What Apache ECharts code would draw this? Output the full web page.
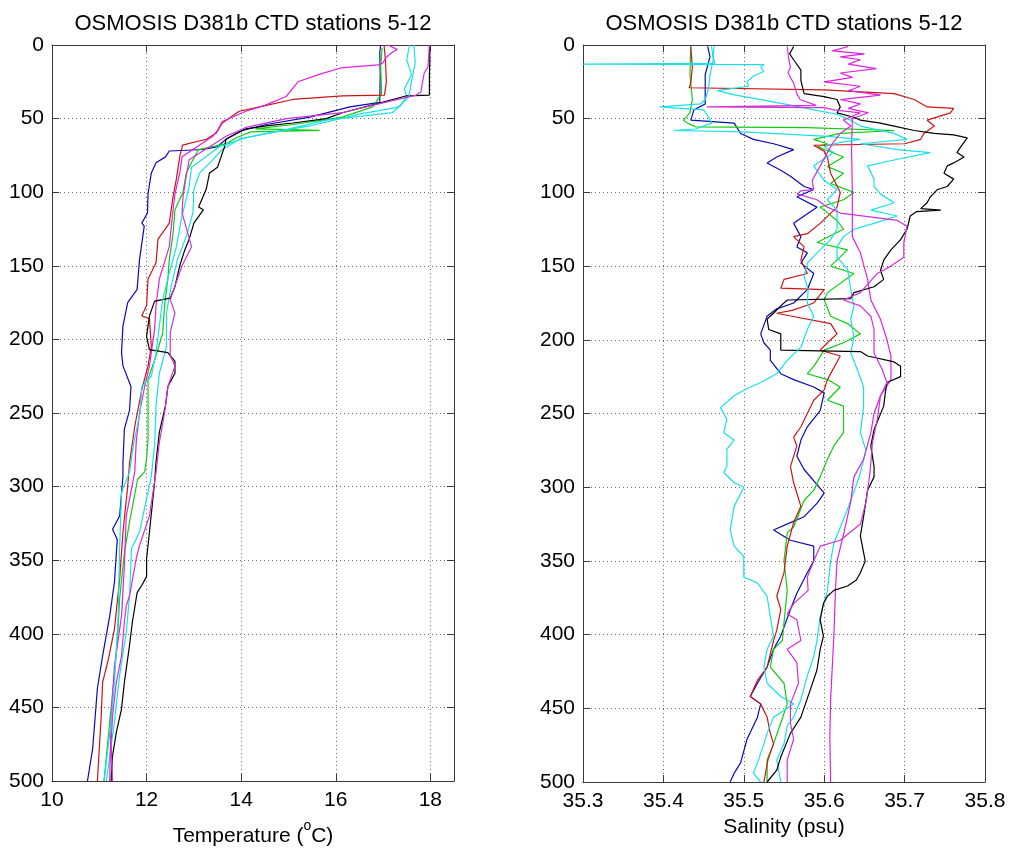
<!DOCTYPE html>
<html>
<head>
<meta charset="utf-8">
<title>OSMOSIS D381b CTD stations 5-12</title>
<script src="https://cdn.jsdelivr.net/npm/echarts@6/dist/echarts.min.js"></script>
<style>
  html, body { margin: 0; padding: 0; background: #fff; }
  #chart { width: 1013px; height: 852px; }
</style>
</head>
<body>
<div id="chart"></div>
<script>
// Profiles as [depth (m), value] pairs, one array per cast.
// Temperature (deg C)
const tempBlue = [[0,16.95],[5,16.93],[20,16.94],[39,16.93],[42,16.3],[49,15.45],[54,14.53],[58,14.03],[64,13.68],[69,13.5],[71,13.2],[72,12.48],[76,12.4],[80,12.2],[87,12.1],[101,12.03],[114,12.02],[121,11.9],[123,11.95],[146,11.85],[166,11.8],[175,11.6],[191,11.5],[209,11.47],[218,11.5],[232,11.67],[248,11.64],[261,11.53],[284,11.5],[293,11.5],[320,11.43],[329,11.28],[336,11.38],[365,11.32],[388,11.22],[415,11.07],[437,10.96],[478,10.86],[500,10.75]];
const tempGreen = [[2,16.98],[15,16.95],[33,16.97],[42,16.78],[49,16.14],[54,15.1],[57,14.3],[58,15.66],[59,14.2],[63,13.9],[67,13.7],[71,13.1],[78,12.98],[87,12.84],[100,12.77],[112,12.6],[128,12.56],[146,12.48],[159,12.45],[177,12.38],[196,12.34],[214,12.17],[227,12.03],[250,12.03],[268,12.03],[281,12.0],[290,11.96],[295,11.81],[324,11.64],[345,11.53],[376,11.43],[401,11.39],[428,11.32],[460,11.22],[483,11.15],[500,11.1]];
const tempRed = [[0,17.02],[10,17.05],[25,17.07],[34,17.03],[34.5,16.14],[37,15.09],[42,14.39],[45,13.96],[53,13.6],[60,13.47],[64,13.26],[68,12.76],[76,12.7],[91,12.63],[103,12.56],[121,12.48],[132,12.24],[148,12.2],[159,12.03],[177,12.0],[184,11.9],[186,12.06],[205,12.1],[218,12.03],[234,11.9],[259,11.75],[284,11.64],[300,11.6],[331,11.5],[363,11.43],[397,11.32],[419,11.18],[433,11.07],[456,11.04],[500,10.96]];
const tempCyanA = [[0,17.56],[10,17.5],[20,17.6],[30,17.45],[35,17.5],[42,17.35],[47,16.5],[55,15.45],[60,14.53],[64,13.96],[71,13.6],[78,13.4],[87,13.12],[98,13.0],[114,12.98],[130,12.84],[146,12.65],[164,12.52],[182,12.42],[205,12.42],[223,12.27],[245,12.2],[272,12.17],[293,12.1],[331,11.85],[342,11.68],[374,11.64],[399,11.57],[428,11.43],[460,11.32],[500,11.15]];
const tempMagentaA = [[0,17.1],[3,17.3],[6,17.15],[9,17.05],[12,17.0],[13.5,16.9],[15.6,16.1],[20,15.65],[25,15.2],[35,14.95],[41,14.5],[45,14.1],[52,13.6],[58,13.5],[62,13.4],[76,12.75],[87,12.7],[101,12.6],[115,12.55],[137,12.48],[159,12.27],[177,12.2],[193,12.17],[218,12.06],[232,11.96],[250,11.85],[270,11.78],[290,11.75],[320,11.57],[354,11.53],[388,11.47],[422,11.32],[456,11.25],[500,11.22]];
const tempBlack = [[0,17.98],[10,17.99],[20,17.98],[34,17.98],[34.5,17.5],[40,16.86],[46,16.14],[50,15.8],[53,15.09],[55,14.53],[57,14.1],[60,13.9],[64,13.68],[69,13.65],[83,13.5],[87,13.33],[98,13.26],[110,13.1],[112,13.2],[121,13.0],[132,12.9],[140,12.8],[150,12.7],[164,12.6],[172,12.5],[174,12.17],[184,12.06],[198,12.0],[207,12.06],[209,12.45],[215,12.6],[223,12.6],[232,12.45],[245,12.4],[263,12.27],[283,12.2],[297,12.17],[331,12.06],[349,12.0],[361,12.0],[367,11.9],[372,11.8],[392,11.7],[410,11.63],[433,11.53],[451,11.47],[467,11.36],[483,11.28],[500,11.25]];
const tempCyanB = [[0,17.65],[12,17.68],[25,17.6],[35,17.55],[46,17.2],[51,15.8],[59,14.74],[63,14.1],[69,13.55],[83,12.95],[96,12.9],[119,12.73],[137,12.63],[155,12.48],[173,12.34],[191,12.27],[209,12.2],[225,12.1],[232,11.9],[250,11.86],[272,11.72],[290,11.64],[304,11.47],[342,11.43],[388,11.4],[433,11.32],[460,11.25],[500,11.1]];
const tempMagentaB = [[0,17.98],[15,17.95],[19,17.87],[26,17.83],[32,17.8],[34,17.7],[43,16.5],[46,16.14],[50,14.96],[56,14.1],[62,13.68],[78,12.9],[89,12.84],[103,12.77],[114,12.75],[137,12.95],[150,12.75],[159,12.65],[173,12.5],[182,12.6],[195,12.5],[211,12.5],[218,12.6],[232,12.45],[250,12.38],[270,12.27],[290,12.2],[320,12.06],[340,11.85],[349,11.78],[374,11.64],[381,11.57],[392,11.53],[415,11.47],[433,11.36],[456,11.28],[474,11.25],[500,11.28]];

// Salinity (psu)
const salBlue = [[1,35.455],[8,35.458],[20,35.452],[40,35.452],[44,35.438],[51,35.434],[53,35.488],[60,35.496],[64,35.512],[67,35.537],[71,35.562],[76,35.541],[80,35.529],[85,35.546],[89,35.558],[96,35.575],[98,35.587],[103,35.566],[110,35.591],[116,35.575],[121,35.562],[130,35.571],[137,35.566],[141,35.579],[148,35.571],[155,35.587],[166,35.579],[175,35.562],[179,35.541],[184,35.529],[196,35.521],[202,35.525],[207,35.533],[214,35.533],[223,35.546],[227,35.562],[232,35.587],[236,35.6],[248,35.595],[259,35.579],[268,35.571],[279,35.566],[288,35.575],[304,35.6],[311,35.591],[320,35.575],[324,35.558],[329,35.537],[336,35.558],[340,35.587],[350,35.587],[358,35.579],[372,35.566],[383,35.558],[401,35.546],[410,35.537],[422,35.529],[433,35.517],[442,35.508],[447,35.521],[456,35.517],[471,35.504],[487,35.496],[494,35.488],[500,35.483]];
const salGreen = [[1,35.434],[20,35.433],[37,35.436],[46,35.433],[51,35.425],[53,35.43],[55.5,35.44],[56,35.579],[58,35.687],[60,35.62],[64,35.587],[67,35.604],[69,35.592],[76,35.624],[82.5,35.604],[87,35.624],[94,35.608],[100,35.637],[105,35.624],[110,35.595],[119,35.616],[125,35.624],[134,35.591],[139,35.629],[150,35.608],[155,35.637],[168,35.604],[173,35.6],[184,35.608],[189,35.629],[196,35.645],[202,35.624],[207,35.6],[218,35.587],[223,35.579],[227,35.604],[232,35.62],[241,35.604],[245,35.624],[263,35.624],[272,35.612],[281,35.604],[293,35.595],[302,35.587],[309,35.575],[327,35.562],[331,35.554],[350,35.55],[370,35.554],[392,35.55],[404,35.548],[410,35.537],[422,35.533],[433,35.55],[447,35.554],[460,35.546],[474,35.537],[485,35.529],[500,35.529]];
const salRed = [[1,35.434],[15,35.436],[26,35.434],[29,35.432],[30,35.43],[30.5,35.6],[33,35.687],[37,35.712],[42,35.728],[43,35.761],[46,35.757],[51,35.728],[55,35.737],[60,35.724],[64,35.72],[67,35.7],[68,35.587],[72,35.6],[76,35.604],[87,35.608],[100,35.62],[110,35.616],[121,35.595],[128,35.579],[130,35.562],[137,35.575],[146,35.571],[155,35.579],[159,35.55],[165,35.546],[166,35.6],[175,35.587],[180,35.56],[182,35.541],[184,35.56],[189,35.608],[196,35.616],[202,35.604],[207,35.595],[211,35.62],[227,35.604],[234,35.6],[241,35.587],[250,35.579],[259,35.571],[266,35.562],[272,35.566],[286,35.558],[297,35.562],[313,35.571],[324,35.562],[340,35.554],[358,35.55],[374,35.541],[383,35.546],[397,35.541],[404,35.537],[422,35.529],[431,35.517],[442,35.508],[447,35.521],[456,35.529],[467,35.533],[474,35.537],[485,35.53],[500,35.525]];
const salCyanA = [[1,35.463],[8,35.462],[12.5,35.464],[13,35.3],[13.3,35.525],[15,35.521],[18,35.525],[21,35.512],[25,35.504],[28,35.506],[31,35.467],[34,35.49],[37,35.521],[41,35.56],[44,35.587],[47,35.616],[51,35.633],[55,35.645],[60,35.687],[64,35.703],[67,35.645],[71,35.691],[73,35.732],[78,35.687],[82,35.654],[91,35.662],[96,35.662],[101,35.67],[107,35.687],[112,35.658],[116,35.691],[121,35.662],[125,35.637],[130,35.624],[137,35.616],[144,35.616],[152,35.629],[166,35.633],[177,35.637],[186,35.633],[198,35.637],[209,35.633],[220,35.641],[232,35.649],[245,35.649],[263,35.645],[275,35.652],[290,35.645],[297,35.641],[315,35.629],[338,35.612],[350,35.608],[370,35.604],[388,35.595],[404,35.591],[415,35.587],[428,35.579],[444,35.571],[456,35.562],[462,35.554],[474,35.55],[485,35.541],[500,35.546]];
const salMagentaA = [[1,35.63],[4,35.61],[6,35.65],[8,35.62],[10,35.645],[13,35.63],[16,35.665],[19,35.62],[22,35.635],[25,35.6],[28,35.645],[31,35.63],[34,35.67],[37,35.62],[40,35.645],[43,35.63],[46,35.655],[50,35.635],[70,35.634],[100,35.635],[130,35.635],[141,35.645],[159,35.654],[173,35.658],[186,35.67],[200,35.678],[211,35.683],[227,35.683],[238,35.67],[250,35.662],[263,35.658],[281,35.649],[293,35.637],[310,35.633],[330,35.625],[350,35.616],[370,35.614],[401,35.612],[444,35.608],[470,35.607],[500,35.608]];
const salBlack = [[1,35.562],[3,35.56],[6,35.557],[10,35.562],[17,35.571],[24,35.571],[33,35.575],[35,35.6],[37,35.616],[42,35.62],[46,35.616],[49,35.637],[51,35.645],[53,35.67],[55,35.687],[58,35.712],[60,35.737],[61,35.761],[63,35.778],[69,35.77],[73,35.765],[76,35.774],[80,35.761],[82,35.753],[87,35.749],[91,35.761],[96,35.753],[98,35.741],[103,35.732],[107,35.728],[111,35.72],[112,35.745],[113,35.715],[116,35.707],[125,35.703],[132,35.695],[139,35.683],[146,35.674],[153,35.67],[159,35.674],[164,35.662],[168,35.637],[172,35.633],[173,35.554],[177,35.546],[182,35.537],[186,35.529],[193,35.531],[196,35.546],[207,35.546],[208,35.645],[211,35.654],[215,35.687],[218,35.695],[225,35.695],[229,35.678],[236,35.676],[245,35.674],[261,35.662],[272,35.658],[286,35.662],[293,35.662],[302,35.654],[320,35.649],[333,35.645],[350,35.651],[358,35.645],[363,35.64],[367,35.629],[370,35.612],[374,35.604],[379,35.599],[390,35.595],[401,35.599],[410,35.595],[424,35.591],[437,35.583],[456,35.571],[467,35.558],[483,35.546],[492,35.541],[500,35.529]];
const salCyanB = [[1,35.46],[10,35.462],[20,35.458],[30,35.456],[37,35.452],[40,35.446],[42,35.396],[44,35.45],[47,35.454],[53,35.46],[57,35.44],[58,35.413],[59,35.5],[62,35.604],[64,35.645],[66,35.62],[69,35.6],[73,35.612],[82,35.587],[92,35.6],[98,35.616],[105,35.604],[112,35.616],[125,35.616],[132,35.608],[141,35.591],[148,35.579],[157,35.575],[166,35.58],[175,35.579],[184,35.587],[193,35.579],[205,35.571],[214,35.554],[223,35.541],[229,35.521],[233,35.504],[238,35.488],[246,35.471],[254,35.479],[263,35.475],[268,35.488],[274,35.479],[286,35.479],[290,35.475],[297,35.488],[300,35.5],[313,35.488],[329,35.483],[340,35.488],[347,35.5],[361,35.5],[365,35.517],[374,35.529],[388,35.533],[401,35.537],[410,35.529],[422,35.525],[433,35.529],[442,35.546],[447,35.562],[456,35.537],[467,35.529],[474,35.525],[487,35.517],[494,35.512],[500,35.521]];
const salMagentaB = [[1,35.554],[10,35.556],[15,35.558],[19,35.555],[26,35.562],[33,35.566],[37,35.57],[41,35.59],[42,35.454],[42.5,35.6],[44,35.612],[46,35.645],[51,35.624],[55,35.633],[60,35.62],[67,35.61],[73,35.604],[82,35.595],[92,35.585],[98,35.587],[99,35.571],[101,35.566],[105,35.591],[110,35.604],[114,35.62],[119,35.691],[123,35.703],[134,35.699],[144,35.699],[150,35.683],[155,35.666],[168,35.645],[173,35.624],[177,35.645],[184,35.658],[193,35.662],[209,35.662],[220,35.672],[229,35.678],[238,35.67],[254,35.666],[270,35.66],[290,35.657],[310,35.652],[325,35.645],[336,35.62],[340,35.595],[350,35.587],[361,35.579],[370,35.58],[379,35.562],[386,35.554],[390,35.566],[404,35.571],[410,35.554],[419,35.566],[433,35.568],[447,35.558],[460,35.558],[471,35.562],[485,35.554],[500,35.554]];

// Line colours in plotting order
const castColors = ['#0a0ab4', '#10cc10', '#cc1414', '#18e0e8', '#e020e0', '#000000', '#18e0e8', '#d030d8'];
const tempCasts = [tempBlue, tempGreen, tempRed, tempCyanA, tempMagentaA, tempBlack, tempCyanB, tempMagentaB];
const salCasts = [salBlue, salGreen, salRed, salCyanA, salMagentaA, salBlack, salCyanB, salMagentaB];

const titleText = 'OSMOSIS D381b CTD stations 5-12';
const depthTicks = { min: 0, max: 500, interval: 50 };
const tempTicks = { min: 10, max: 18.5, interval: 2 };
const salTicks = { min: 35.3, max: 35.8, interval: 0.1 };

const FONT = '"Liberation Sans", Arial, Helvetica, sans-serif';
const AXIS_COLOR = '#3a3a3a';
const GRID_COLOR = '#6a6a6a';

const grids = [
  { left: 52, top: 45, width: 402, height: 737 },
  { left: 583, top: 45, width: 402, height: 737 }
];

function bottomAxis(gridIndex, ticks, name, nameGap, rich, fmt) {
  return {
    type: 'value', gridIndex, position: 'bottom',
    min: ticks.min, max: ticks.max, interval: ticks.interval,
    name, nameLocation: 'middle', nameGap,
    nameTextStyle: { color: '#000', fontSize: 21, fontFamily: FONT, rich },
    axisLine: { show: true, onZero: false, lineStyle: { color: AXIS_COLOR, width: 1 } },
    axisTick: { show: true, inside: true, length: 7, lineStyle: { color: AXIS_COLOR } },
    axisLabel: { color: '#000', fontSize: 21, fontFamily: FONT, margin: 9, showMaxLabel: fmt.showMax, formatter: fmt.f },
    splitLine: { show: true, lineStyle: { color: GRID_COLOR, width: 1, type: [1, 3] } }
  };
}
function topAxis(gridIndex, ticks) {
  return {
    type: 'value', gridIndex, position: 'top',
    min: ticks.min, max: ticks.max, interval: ticks.interval,
    axisLine: { show: true, onZero: false, lineStyle: { color: AXIS_COLOR, width: 1 } },
    axisTick: { show: true, inside: true, length: 7, lineStyle: { color: AXIS_COLOR } },
    axisLabel: { show: false }, splitLine: { show: false }
  };
}
function leftAxis(gridIndex) {
  return {
    type: 'value', gridIndex, position: 'left', inverse: true,
    min: depthTicks.min, max: depthTicks.max, interval: depthTicks.interval,
    axisLine: { show: true, onZero: false, lineStyle: { color: AXIS_COLOR, width: 1 } },
    axisTick: { show: true, inside: true, length: 7, lineStyle: { color: AXIS_COLOR } },
    axisLabel: { color: '#000', fontSize: 21, fontFamily: FONT, margin: 8 },
    splitLine: { show: true, lineStyle: { color: GRID_COLOR, width: 1, type: [1, 3] } }
  };
}
function rightAxis(gridIndex) {
  return {
    type: 'value', gridIndex, position: 'right', inverse: true,
    min: depthTicks.min, max: depthTicks.max, interval: depthTicks.interval,
    axisLine: { show: true, onZero: false, lineStyle: { color: AXIS_COLOR, width: 1 } },
    axisTick: { show: true, inside: true, length: 7, lineStyle: { color: AXIS_COLOR } },
    axisLabel: { show: false }, splitLine: { show: false }
  };
}

const tempRich = {
  t: { fontSize: 21, fontFamily: FONT, color: '#000', lineHeight: 28, verticalAlign: 'bottom' },
  sup: { fontSize: 14, fontFamily: FONT, color: '#000', lineHeight: 14, verticalAlign: 'top' }
};

const series = [];
tempCasts.forEach((cast, i) => {
  series.push({
    type: 'line', xAxisIndex: 0, yAxisIndex: 0, showSymbol: false, symbol: 'none',
    silent: true, clip: true, animation: false,
    lineStyle: { color: castColors[i], width: 1.2 },
    data: cast.map(p => [p[1], p[0]])
  });
});
salCasts.forEach((cast, i) => {
  series.push({
    type: 'line', xAxisIndex: 2, yAxisIndex: 2, showSymbol: false, symbol: 'none',
    silent: true, clip: true, animation: false,
    lineStyle: { color: castColors[i], width: 1.2 },
    data: cast.map(p => [p[1], p[0]])
  });
});

const chart = echarts.init(document.getElementById('chart'), null, { renderer: 'canvas' });
chart.setOption({
  backgroundColor: '#fff',
  animation: false,
  grid: grids,
  xAxis: [
    bottomAxis(0, tempTicks, '{t|Temperature (}{sup|o}{t|C)}', 38, tempRich, { showMax: false, f: v => String(v) }),
    topAxis(0, tempTicks),
    bottomAxis(1, salTicks, 'Salinity (psu)', 34, undefined, { showMax: true, f: v => Number(v).toFixed(1) }),
    topAxis(1, salTicks)
  ],
  yAxis: [leftAxis(0), rightAxis(0), leftAxis(1), rightAxis(1)],
  graphic: [
    { type: 'text', x: 253, y: 24, silent: true,
      style: { text: titleText, fill: '#000', fontSize: 22, fontFamily: FONT, textAlign: 'center', textVerticalAlign: 'middle' } },
    { type: 'text', x: 784, y: 24, silent: true,
      style: { text: titleText, fill: '#000', fontSize: 22, fontFamily: FONT, textAlign: 'center', textVerticalAlign: 'middle' } }
  ],
  series
});
</script>
</body>
</html>
